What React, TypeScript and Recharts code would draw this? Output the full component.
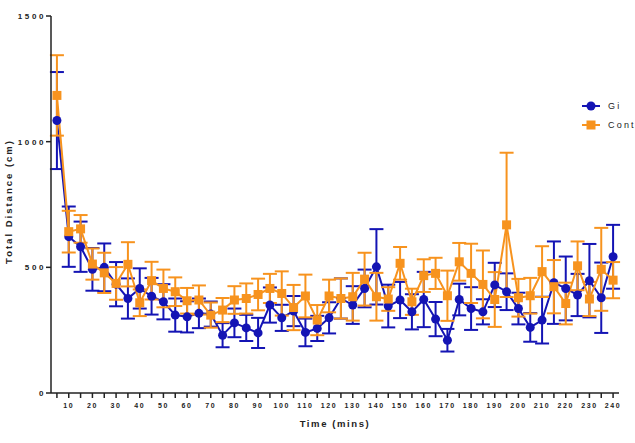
import React from 'react';
import { LineChart, Line, XAxis, YAxis, ErrorBar } from 'recharts';

const BLUE = '#1414B4';
const ORANGE = '#F7931E';
const FONT = '"Liberation Sans", Arial, sans-serif';

const times = [
  5, 10, 15, 20, 25, 30, 35, 40, 45, 50, 55, 60, 65, 70, 75, 80, 85, 90, 95, 100, 105, 110, 115, 120,
  125, 130, 135, 140, 145, 150, 155, 160, 165, 170, 175, 180, 185, 190, 195, 200, 205, 210, 215, 220,
  225, 230, 235, 240,
];

const giMean = [
  1084, 622, 582, 492, 500, 433, 376, 416, 385, 363, 310, 303, 317, 314, 230, 279, 259, 239, 350, 299,
  326, 241, 257, 299, 376, 350, 416, 502, 346, 370, 323, 372, 294, 210, 372, 336, 323, 430, 403, 336,
  261, 290, 439, 416, 390, 447, 379, 542,
];
const giErr = [
  193, 120, 100, 85, 95, 88, 80, 80, 73, 70, 66, 62, 59, 50, 48, 57, 52, 60, 70, 52, 60, 55, 50, 62, 80,
  75, 75, 150, 85, 72, 70, 110, 68, 45, 63, 85, 50, 88, 73, 63, 57, 93, 164, 127, 84, 146, 140, 127,
];

const contMean = [
  1184, 642, 653, 513, 478, 436, 512, 359, 447, 416, 403, 367, 370, 310, 330, 370, 376, 392, 416, 396,
  340, 386, 290, 386, 376, 383, 453, 383, 374, 516, 363, 467, 476, 387, 522, 476, 432, 372, 669, 379,
  387, 483, 423, 356, 506, 374, 492, 449,
];
const contErr = [
  160, 83, 55, 62, 80, 65, 88, 53, 75, 75, 57, 51, 58, 50, 48, 55, 60, 63, 58, 88, 90, 85, 60, 65, 80,
  95, 105, 95, 47, 65, 52, 65, 62, 100, 75, 118, 135, 109, 287, 75, 71, 101, 106, 83, 97, 68, 165, 72,
];

const yTicks = [0, 500, 1000, 1500];

const legendItems = [
  { name: 'Gi', color: BLUE, square: false },
  { name: 'Cont', color: ORANGE, square: true },
];

const data = times.map((t, i) => ({
  t,
  gi: giMean[i],
  giErr: giErr[i],
  cont: contMean[i],
  contErr: contErr[i],
}));

const SquareDot = (props: any) => {
  const { cx, cy, index } = props;
  if (cx == null || cy == null) return null;
  return <rect key={`sq-${index}`} x={cx - 4.5} y={cy - 4.5} width={9} height={9} fill={ORANGE} />;
};

// legend sits over the plot, like the prism-style key in the original
function ChartLegend() {
  return (
    <div style={{ position: 'absolute', left: 581, top: 96, fontFamily: FONT }}>
      {legendItems.map((it) => (
        <div key={it.name} style={{ display: 'flex', alignItems: 'center', height: 19, whiteSpace: 'nowrap' }}>
          <svg width={20} height={12} style={{ marginRight: 7 }}>
            <line x1={1} y1={6} x2={19} y2={6} stroke={it.color} strokeWidth={2} />
            {it.square ? (
              <rect x={5.5} y={1.5} width={9} height={9} fill={it.color} />
            ) : (
              <circle cx={10} cy={6} r={4.5} fill={it.color} />
            )}
          </svg>
          <span style={{ fontSize: 9, letterSpacing: 2.2, color: '#222' }}>{it.name}</span>
        </div>
      ))}
    </div>
  );
}

export default function App() {
  return (
    <div style={{ position: 'absolute', left: 0, top: 0, width: 635, height: 443, overflow: 'hidden', background: '#fff' }}>
      <LineChart
        width={635}
        height={443}
        data={data}
        margin={{ top: 16, right: 16, bottom: 20, left: 0 }}
        style={{ fontFamily: FONT }}
      >
        <XAxis
          dataKey="t"
          type="number"
          domain={[2.5, 242.5]}
          ticks={times}
          interval={0}
          tickFormatter={(v: number) => (v % 10 === 0 ? String(v) : '')}
          tickSize={5}
          tickMargin={5}
          height={30}
          stroke="#222"
          strokeWidth={1.5}
          tick={{ fill: '#222', fontSize: 7, fontWeight: 'bold', letterSpacing: 1.6 }}
          label={{
            content: (p: any) => (
              <text
                x={p.viewBox.x + p.viewBox.width / 2}
                y={427}
                textAnchor="middle"
                fill="#222"
                fontSize={9.5}
                fontWeight="bold"
                letterSpacing={1.6}
              >
                Time (mins)
              </text>
            ),
          }}
        />
        <YAxis
          type="number"
          domain={[0, 1500]}
          ticks={yTicks}
          interval={0}
          width={51}
          tickSize={5}
          tickMargin={0}
          stroke="#222"
          strokeWidth={1.5}
          tick={{ fill: '#222', fontSize: 8, fontWeight: 'bold', letterSpacing: 2.6 }}
          label={{
            content: (p: any) => (
              <text
                transform={`translate(12, ${p.viewBox.y + p.viewBox.height / 2 - 3}) rotate(-90)`}
                textAnchor="middle"
                fill="#222"
                fontSize={9.5}
                fontWeight="bold"
                letterSpacing={2}
              >
                Total Distance (cm)
              </text>
            ),
          }}
        />
        <Line
          dataKey="gi"
          name="Gi"
          stroke={BLUE}
          strokeWidth={2}
          dot={{ r: 4.5, fill: BLUE, stroke: BLUE, strokeWidth: 0 }}
          activeDot={false}
          isAnimationActive={false}
        >
          <ErrorBar dataKey="giErr" width={7} stroke={BLUE} strokeWidth={2} direction="y" isAnimationActive={false} />
        </Line>
        <Line
          dataKey="cont"
          name="Cont"
          stroke={ORANGE}
          strokeWidth={2}
          dot={SquareDot}
          activeDot={false}
          isAnimationActive={false}
        >
          <ErrorBar dataKey="contErr" width={7} stroke={ORANGE} strokeWidth={2} direction="y" isAnimationActive={false} />
        </Line>
      </LineChart>
      <ChartLegend />
    </div>
  );
}
